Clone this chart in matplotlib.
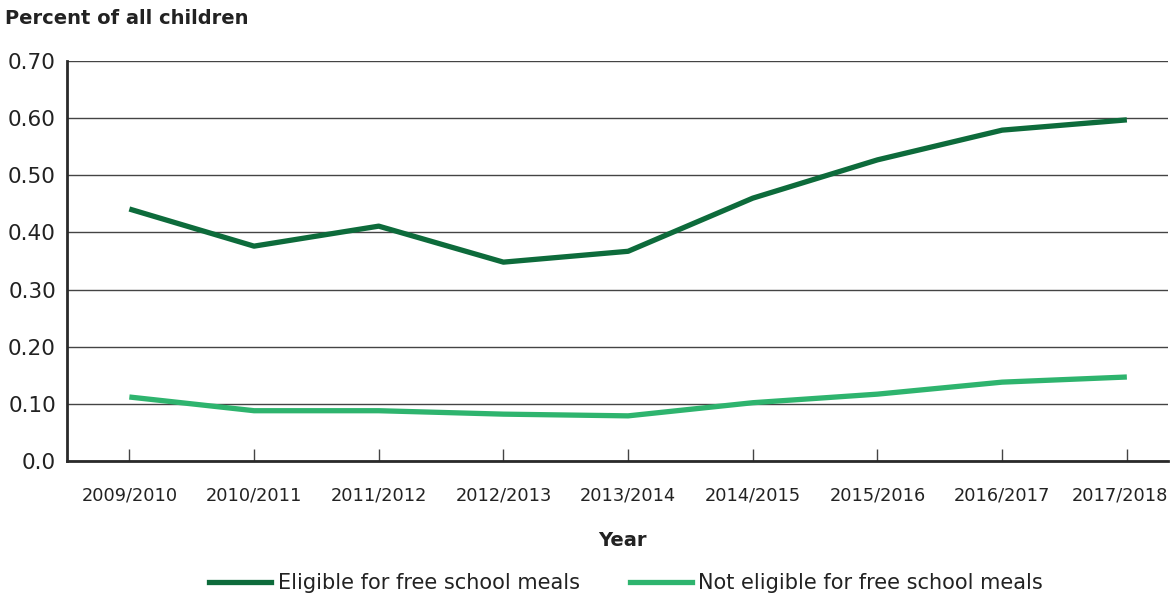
import matplotlib
matplotlib.use("Agg")
import matplotlib.pyplot as plt
import matplotlib.transforms as mtransforms
from matplotlib.lines import Line2D

years = ["2009/2010", "2010/2011", "2011/2012", "2012/2013", "2013/2014",
         "2014/2015", "2015/2016", "2016/2017", "2017/2018"]
eligible = [0.441, 0.376, 0.411, 0.348, 0.367, 0.460, 0.527, 0.579, 0.597]
not_eligible = [0.112, 0.088, 0.088, 0.082, 0.079, 0.102, 0.117, 0.138, 0.147]
yticks = [0.0, 0.1, 0.2, 0.3, 0.4, 0.5, 0.6, 0.7]
ytick_labels = ["0.0", "0.10", "0.20", "0.30", "0.40", "0.50", "0.60", "0.70"]

dark = "#0d6b3b"
light = "#2eb46e"
txt = "#222222"

plt.rcParams["font.family"] = ["DejaVu Sans"]

fig = plt.figure(figsize=(11.73, 5.99), dpi=100)
ax = fig.add_axes([67/1173, 1-461/599, (1168-67)/1173, 400/599])

x = list(range(len(years)))
ax.plot(x, eligible, color=dark, lw=3.8, solid_capstyle="butt", zorder=3)
ax.plot(x, not_eligible, color=light, lw=3.8, solid_capstyle="butt", zorder=3)

ax.set_xlim(-0.5, 8.33)
ax.set_ylim(0, 0.7)
ax.set_yticks(yticks)
ax.set_yticklabels(ytick_labels, fontsize=15.5, color=txt)
ax.set_xticks(x)
ax.set_xticklabels(years, fontsize=12.8, color=txt)
ax.tick_params(axis="x", direction="in", length=9, width=1, color="#444444", pad=18)
ax.tick_params(axis="y", length=0, pad=8)
ax.grid(axis="y", color="#444444", lw=1)
ax.set_axisbelow(True)
for s in ["top", "right"]:
    ax.spines[s].set_visible(False)
ax.spines["left"].set_linewidth(2)
ax.spines["bottom"].set_linewidth(2)
ax.spines["left"].set_color("#2a2a2a")
ax.spines["bottom"].set_color("#2a2a2a")

# nudge the last tick label slightly left, as in the reference
last = ax.get_xticklabels()[-1]
last.set_transform(last.get_transform() +
                   mtransforms.ScaledTranslation(-7/100, 0, fig.dpi_scale_trans))

fig.text(5/1173, 1-19/599, "Percent of all children", fontsize=14, color=txt,
         ha="left", va="center", fontweight="bold")
fig.text(622/1173, 1-541/599, "Year", fontsize=14, color=txt, ha="center", va="center",
         fontweight="bold")

handles = [Line2D([], [], color=dark, lw=3.8), Line2D([], [], color=light, lw=3.8)]
fig.legend(handles, ["Eligible for free school meals", "Not eligible for free school meals"],
           loc="center", bbox_to_anchor=(626/1173, 1-583/599), ncol=2, frameon=False,
           fontsize=15, handlelength=3.0, handletextpad=0.3, columnspacing=2.4,
           labelcolor=txt)

fig.savefig("out.png", dpi=100)
